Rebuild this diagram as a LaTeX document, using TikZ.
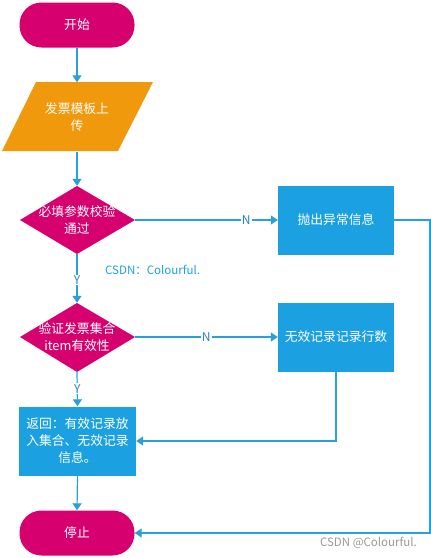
\documentclass[tikz,border=0pt]{standalone}
\usepackage{fontspec}
\setmainfont{Noto Sans CJK SC}
\usetikzlibrary{arrows.meta,shapes.geometric,calc}
\definecolor{mag}{HTML}{D6006F}
\definecolor{org}{HTML}{F0990C}
\definecolor{blu}{HTML}{1BA1E2}
\definecolor{lin}{HTML}{2A9FD8}
\definecolor{lbc}{HTML}{2386C8}
\definecolor{wm}{HTML}{999999}
\begin{document}
\begin{tikzpicture}[x=1pt,y=-1pt,
  txt/.style={text=white,font=\fontsize{12.8}{17}\selectfont,align=center},
  term/.style={txt,fill=mag,rounded corners=22pt,minimum width=115pt,minimum height=45pt,inner sep=0pt},
  proc/.style={txt,fill=blu,minimum width=116pt,minimum height=69pt,inner sep=0pt},
  dec/.style={txt,inner sep=0pt,minimum width=115pt,minimum height=68pt},
  io/.style={txt,inner sep=0pt,minimum width=117pt,minimum height=69pt},
  conn/.style={draw=lin,line width=1.2pt,-{Triangle[length=7pt,width=9pt]}},
  lbl/.style={fill=white,text=lbc,font=\fontsize{12}{14}\selectfont,inner sep=1pt}
]
\useasboundingbox (0,0) rectangle (431,558);
% shapes
\node[term] (start) at (77,25) {开始};
\fill[org] (36,82) -- (153,82) -- (118,151) -- (2,151) -- cycle;
\node[io] (up) at (77,117) {发票模板上\\传};
\fill[mag] (20,220) -- (77,186) -- (135,220) -- (77,254) -- cycle;
\node[dec] (d1) at (77,220) {必填参数校验\\通过};
\node[proc] (ex) at (336,220) {抛出异常信息};
\fill[mag] (20,337) -- (77,303) -- (135,337) -- (77,372) -- cycle;
\node[dec] (d2) at (77,337) {验证发票集合\\item有效性};
\node[proc] (inv) at (336,337) {无效记录记录行数};
\node[proc,minimum width=117pt] (ret) at (77.5,441) {返回：有效记录放\\入集合、无效记录\\信息。};
\node[term] (stop) at (77,533) {停止};
% connectors
\draw[conn] (start.south) -- (up.north);
\draw[conn] (up.south) -- (d1.north);
\draw[conn] (d1.east) -- node[lbl,pos=0.78]{N} (ex.west);
\draw[conn] (d1.south) -- node[lbl,pos=0.53]{Y} (d2.north);
\draw[conn] (d2.east) -- node[lbl,pos=0.5]{N} (inv.west);
\draw[conn] (d2.south) -- node[lbl,pos=0.5]{Y} (ret.north);
\draw[conn] (ret.south) -- (stop.north);
\coordinate (c1) at (430,220);
\coordinate (c2) at (430,533);
\draw[conn] (ex.east) -- (c1) -- (c2) -- (stop.east);
\coordinate (c3) at (336,441);
\draw[conn] (inv.south) -- (c3) -- (ret.east);
% texts
\node[anchor=west,text=blu,font=\fontsize{11.5}{13}\selectfont,inner sep=0pt] (wm1) at (105,270) {CSDN：Colourful.};
\node[anchor=east,text=wm,font=\fontsize{11.5}{13}\selectfont,inner sep=0pt] (wm2) at (417,543) {CSDN @Colourful.};
\end{tikzpicture}
\end{document}
